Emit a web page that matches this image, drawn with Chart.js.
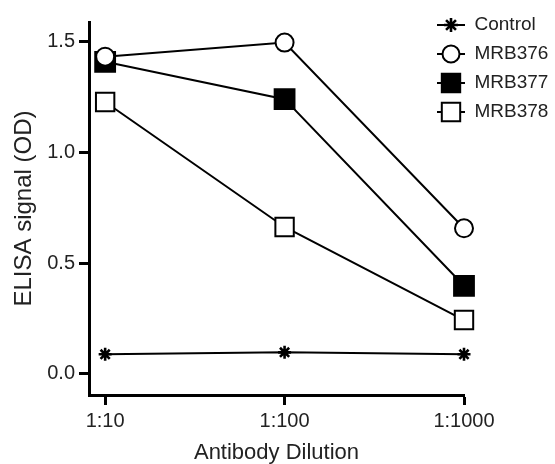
<!DOCTYPE html>
<html>
<head>
<meta charset="utf-8">
<script src="https://cdn.jsdelivr.net/npm/chart.js@4/dist/chart.umd.min.js"></script>
<style>
  html, body { margin: 0; padding: 0; background: #fff; }
  #wrap { width: 555px; height: 464px; }
</style>
</head>
<body>
<div id="wrap"><canvas id="elisa" width="555" height="464"></canvas></div>
<script>
// data
const dilutions = ['1:10', '1:100', '1:1000'];
const yTicks = [0, 0.5, 1.0, 1.5];
const control = [0.087, 0.096, 0.087];
const mrb376 = [1.433, 1.497, 0.657];
const mrb377 = [1.41, 1.241, 0.397];
const mrb378 = [1.228, 0.663, 0.242];

const FONT = "'Liberation Sans', Arial, Helvetica, sans-serif";
const TXT = '#222';

const toPoints = vals => vals.map((v, i) => ({ x: i, y: v }));

const styles = [
    { label: 'Control', data: control, pointStyle: 'star', pointRadius: 6.5, pointBorderWidth: 2.6, bg: '#000' },
    { label: 'MRB376', data: mrb376, pointStyle: 'circle', pointRadius: 9, pointBorderWidth: 2, bg: '#fff' },
    { label: 'MRB377', data: mrb377, pointStyle: 'rect', pointRadius: 14, pointBorderWidth: 2, bg: '#000' },
    { label: 'MRB378', data: mrb378, pointStyle: 'rect', pointRadius: 13, pointBorderWidth: 2, bg: '#fff' }
];

// legend icons: short line with the marker on it
function makeIcon(s) {
    const c = document.createElement('canvas');
    c.width = 28;
    c.height = 24;
    const ctx = c.getContext('2d');
    ctx.strokeStyle = '#000';
    ctx.lineWidth = 2;
    ctx.beginPath();
    ctx.moveTo(0, 12);
    ctx.lineTo(28, 12);
    ctx.stroke();
    ctx.fillStyle = s.bg;
    ctx.lineWidth = s.pointBorderWidth;
    const r = s.pointStyle === 'circle' ? 8.5 : s.pointStyle === 'star' ? 7 : 13;
    if (Chart.helpers && Chart.helpers.drawPoint) {
        Chart.helpers.drawPoint(ctx, { pointStyle: s.pointStyle, radius: r, borderWidth: s.pointBorderWidth, rotation: 0 }, 14, 12);
    }
    return c;
}
const icons = styles.map(makeIcon);

// put the legend block in the upper right corner, over the margin
const legendPlace = {
    id: 'legendPlace',
    afterLayout(chart) {
        const lg = chart.legend;
        if (!lg) return;
        lg.left = 427;
        lg.right = 555;
        lg.width = 128;
        lg.top = 5.5;
        lg.bottom = 464;
        lg.height = 458.5;
    }
};

new Chart(document.getElementById('elisa'), {
    type: 'line',
    data: {
        datasets: styles.map(s => ({
            label: s.label,
            data: toPoints(s.data),
            borderColor: '#000',
            borderWidth: 2,
            backgroundColor: s.bg,
            pointStyle: s.pointStyle,
            pointRadius: s.pointRadius,
            pointHoverRadius: s.pointRadius,
            pointBackgroundColor: s.bg,
            pointBorderColor: '#000',
            pointBorderWidth: s.pointBorderWidth,
            tension: 0,
            fill: false,
            clip: false
        }))
    },
    options: {
        responsive: false,
        animation: false,
        layout: { padding: { top: 22, left: 0, right: 0, bottom: 0 } },
        plugins: {
            tooltip: { enabled: false },
            legend: {
                position: 'right',
                align: 'start',
                maxWidth: 91,
                labels: {
                    usePointStyle: true,
                    pointStyleWidth: 28,
                    padding: 10,
                    color: TXT,
                    font: { family: FONT, size: 19 },
                    generateLabels(chart) {
                        const items = Chart.defaults.plugins.legend.labels.generateLabels(chart);
                        items.forEach((it, i) => { it.pointStyle = icons[i]; });
                        return items;
                    }
                }
            }
        },
        scales: {
            x: {
                type: 'linear',
                min: -0.09,
                max: 2,
                afterBuildTicks: s => { s.ticks = dilutions.map((d, i) => ({ value: i })); },
                afterFit: s => { s.height = 69; },
                border: { width: 3, color: '#000' },
                grid: { drawOnChartArea: false, tickLength: 10, tickWidth: 3, tickColor: '#000' },
                ticks: {
                    color: TXT,
                    padding: 4,
                    font: { family: FONT, size: 20 },
                    callback: v => dilutions[v]
                },
                title: {
                    display: true,
                    text: 'Antibody Dilution',
                    color: TXT,
                    font: { family: FONT, size: 22, lineHeight: 1.0 },
                    padding: { top: 0, bottom: 0 }
                }
            },
            y: {
                min: -0.097,
                max: 1.59,
                afterBuildTicks: s => { s.ticks = yTicks.map(v => ({ value: v })); },
                afterFit: s => { s.width = 89; },
                border: { width: 3, color: '#000' },
                grid: { drawOnChartArea: false, tickLength: 10, tickWidth: 3, tickColor: '#000' },
                ticks: {
                    color: TXT,
                    padding: 4,
                    font: { family: FONT, size: 20 },
                    callback: v => Number(v).toFixed(1)
                },
                title: {
                    display: true,
                    text: 'ELISA signal (OD)',
                    color: TXT,
                    font: { family: FONT, size: 24 },
                    padding: { top: 10, bottom: 0 }
                }
            }
        }
    },
    plugins: [legendPlace]
});
</script>
</body>
</html>
